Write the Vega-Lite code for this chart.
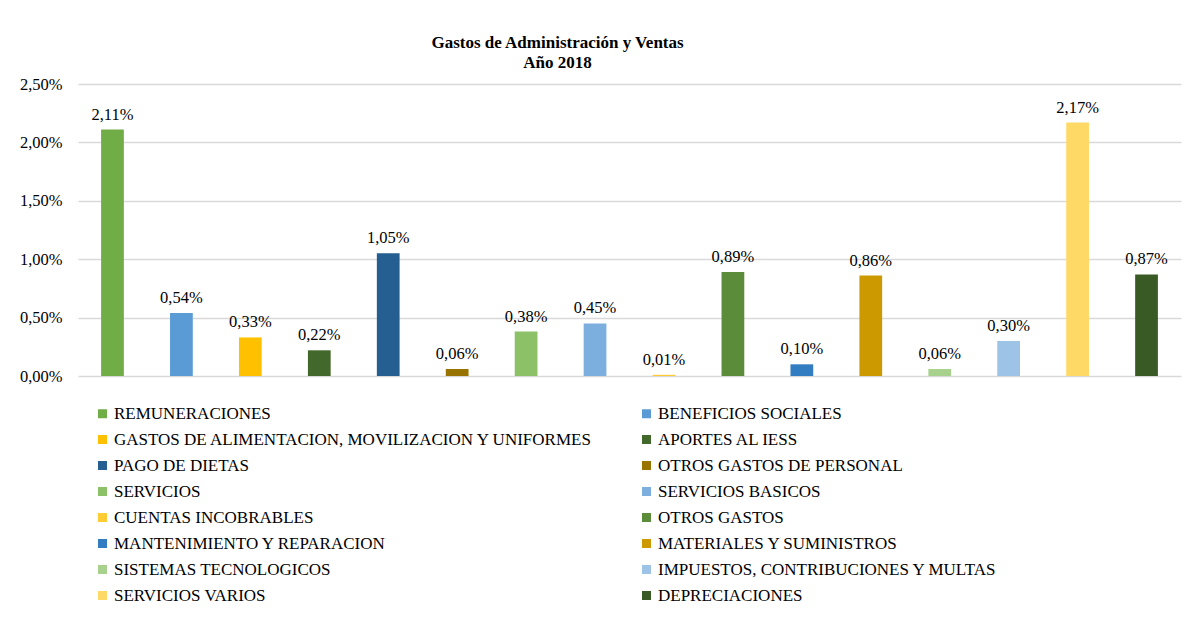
{
  "$schema": "https://vega.github.io/schema/vega-lite/v6.json",
  "autosize": {"type": "none"},
  "width": 1103,
  "height": 292,
  "padding": {"left": 78, "top": 84, "right": 4, "bottom": 241},
  "background": "white",
  "title": {
    "text": ["Gastos de Administración y Ventas", "Año 2018"],
    "font": "Liberation Serif, Times New Roman, serif",
    "fontSize": 17,
    "fontWeight": "bold",
    "color": "#000000",
    "anchor": "middle",
    "dx": -72,
    "offset": 4,
    "lineHeight": 20
  },
  "config": {
    "locale": {"number": {"decimal": ",", "thousands": ".", "grouping": [3], "currency": ["$", ""]}},
    "view": {"stroke": null},
    "font": "Liberation Serif, Times New Roman, serif"
  },
  "data": {
    "values": [
      {"cat": "REMUNERACIONES", "v": 0.0211},
      {"cat": "BENEFICIOS SOCIALES", "v": 0.0054},
      {"cat": "GASTOS DE ALIMENTACION, MOVILIZACION Y UNIFORMES", "v": 0.0033},
      {"cat": "APORTES AL IESS", "v": 0.0022},
      {"cat": "PAGO DE DIETAS", "v": 0.0105},
      {"cat": "OTROS GASTOS DE PERSONAL", "v": 0.0006},
      {"cat": "SERVICIOS", "v": 0.0038},
      {"cat": "SERVICIOS BASICOS", "v": 0.0045},
      {"cat": "CUENTAS INCOBRABLES", "v": 0.0001},
      {"cat": "OTROS GASTOS", "v": 0.0089},
      {"cat": "MANTENIMIENTO Y REPARACION", "v": 0.0010},
      {"cat": "MATERIALES Y SUMINISTROS", "v": 0.0086},
      {"cat": "SISTEMAS TECNOLOGICOS", "v": 0.0006},
      {"cat": "IMPUESTOS, CONTRIBUCIONES Y MULTAS", "v": 0.0030},
      {"cat": "SERVICIOS VARIOS", "v": 0.0217},
      {"cat": "DEPRECIACIONES", "v": 0.0087}
    ]
  },
  "encoding": {
    "x": {
      "field": "cat",
      "type": "nominal",
      "sort": null,
      "axis": null,
      "scale": {"paddingInner": 0.67, "paddingOuter": 0.335}
    },
    "y": {
      "field": "v",
      "type": "quantitative",
      "scale": {"domain": [0, 0.025], "nice": false},
      "axis": {
        "title": null,
        "format": ".2%",
        "values": [0, 0.005, 0.01, 0.015, 0.02, 0.025],
        "domain": false,
        "ticks": false,
        "labelFont": "Liberation Serif, Times New Roman, serif",
        "labelFontSize": 16.5,
        "labelColor": "#000000",
        "labelPadding": 16,
        "gridColor": "#D9D9D9",
        "gridWidth": 1.5
      }
    }
  },
  "layer": [
    {
      "mark": {"type": "bar"},
      "encoding": {
        "color": {
          "field": "cat",
          "type": "nominal",
          "sort": null,
          "scale": {
            "range": ["#70AD47", "#5B9BD5", "#FFC000", "#43682B", "#255E91", "#997300", "#8CC168", "#7CAFDD", "#FFCD33", "#5B8C3A", "#327DC2", "#CC9A00", "#A9D18E", "#9DC3E6", "#FFD966", "#3A5A25"]
          },
          "legend": {
            "title": null,
            "orient": "none",
            "legendX": 16,
            "legendY": 321,
            "direction": "horizontal",
            "columns": 2,
            "columnPadding": 44,
            "rowPadding": 8,
            "padding": 0,
            "symbolType": "square",
            "symbolSize": 81,
            "symbolStrokeWidth": 0,
            "labelFont": "Liberation Serif, Times New Roman, serif",
            "labelFontSize": 17,
            "labelColor": "#000000",
            "labelLimit": 700,
            "labelOffset": 3
          }
        }
      }
    },
    {
      "mark": {"type": "text", "baseline": "bottom", "dy": -7, "font": "Liberation Serif, Times New Roman, serif", "fontSize": 16.5, "color": "#000000"},
      "encoding": {
        "text": {"field": "v", "type": "quantitative", "format": ".2%"}
      }
    }
  ]
}
